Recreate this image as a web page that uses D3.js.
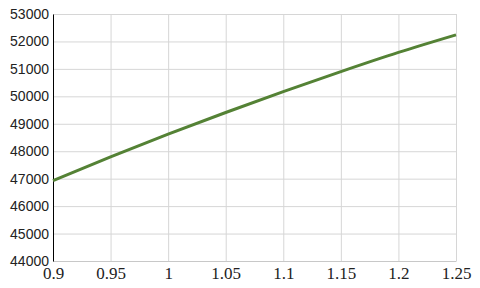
<!DOCTYPE html>
<html>
<head>
<meta charset="utf-8">
<script src="https://cdn.jsdelivr.net/npm/d3@7"></script>
<style>
  body { margin:0; background:#fff; }
  .grid line { stroke:#d6d6d6; }
  .grid .domain { display:none; }
  .y-axis text { font-family:"Liberation Sans", Arial, sans-serif; font-size:14px; fill:#222; }
  .x-axis text { font-family:"Liberation Serif", "Times New Roman", serif; font-size:17px; fill:#222; }
</style>
</head>
<body>
<div id="chart"></div>
<script>
const xValues = [0.9, 0.95, 1.0, 1.05, 1.1, 1.15, 1.2, 1.25];
const yValues = [46930, 47790, 48620, 49410, 50170, 50900, 51600, 52240];
const xTicks  = [0.9, 0.95, 1, 1.05, 1.1, 1.15, 1.2, 1.25];
const yTicks  = [44000, 45000, 46000, 47000, 48000, 49000, 50000, 51000, 52000, 53000];

const margin = { top:14, right:24, bottom:27, left:53 };
const totalW = 480, totalH = 288;
const W = totalW - margin.left - margin.right, H = totalH - margin.top - margin.bottom;

const svg = d3.select("#chart").append("svg")
    .attr("width", totalW).attr("height", totalH)
    .append("g").attr("transform", `translate(${margin.left},${margin.top})`);

const x = d3.scaleLinear().domain([0.9, 1.25]).range([0, W]);
const y = d3.scaleLinear().domain([44000, 53000]).range([H, 0]);
const data = xValues.map((v, i) => ({ x:v, y:yValues[i] }));

// gridlines
svg.append("g").attr("class","grid")
    .call(d3.axisLeft(y).tickValues(yTicks).tickSize(-W).tickFormat(""));
svg.append("g").attr("class","grid")
    .attr("transform", `translate(0,${H})`)
    .call(d3.axisBottom(x).tickValues(xTicks).tickSize(-H).tickFormat(""));

// bottom axis (grey baseline, serif labels)
const xa = svg.append("g").attr("class","x-axis")
    .attr("transform", `translate(0,${H})`)
    .call(d3.axisBottom(x).tickValues(xTicks).tickSize(0).tickPadding(6).tickFormat(d3.format("")));
xa.select(".domain").attr("stroke", "#c8c8c8");

// left axis (black line)
const ya = svg.append("g").attr("class","y-axis")
    .call(d3.axisLeft(y).tickValues(yTicks).tickSize(0).tickPadding(4).tickFormat(d3.format("d")));
ya.select(".domain").attr("stroke", "#000");

svg.append("path").datum(data)
    .attr("fill", "none").attr("stroke", "#548235").attr("stroke-width", 3)
    .attr("d", d3.line().x(d => x(d.x)).y(d => y(d.y)).curve(d3.curveMonotoneX));
</script>
</body>
</html>
